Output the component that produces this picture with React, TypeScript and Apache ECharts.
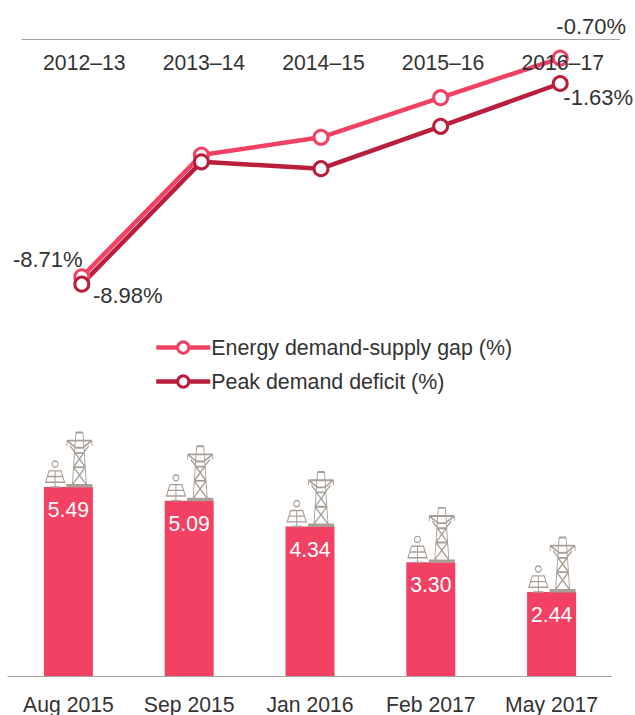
import React, { useEffect, useRef } from "react";
import * as echarts from "echarts";

const years = ["2012–13", "2013–14", "2014–15", "2015–16", "2016–17"];
const energyGap = [-8.71, -4.25, -3.6, -2.15, -0.7];
const peakDeficit = [-8.98, -4.5, -4.75, -3.2, -1.63];
const months = ["Aug 2015", "Sep 2015", "Jan 2016", "Feb 2017", "May 2017"];
const barValues = [5.49, 5.09, 4.34, 3.3, 2.44];

const energyName = "Energy demand-supply gap (%)";
const peakName = "Peak demand deficit (%)";

const FONT = "'Liberation Sans', Arial, sans-serif";
const FS = 21.2;
const TEXT = "#333333";
const PINK = "#F14265";
const CRIMSON = "#B91F3C";
const ICON = "#A99F96";

const towerPath =
  "path://M10 2H17M10 2L6.5 53M17 2L20.5 53M1 10H26M1 10V15M26 10V15M1 10L10 17H17L26 10M4 15L9.5 22H17.5L23 15M9 22H18M8 36H19.5M9 22L19.5 36M18 22L7.5 36M7.5 36L20.5 53M19.5 36L6.5 53M0.5 53.5H26.5M0.5 55H26.5";
const solarPath =
  "path://M12.5 3A3 3 0 1 1 6.5 3A3 3 0 1 1 12.5 3ZM3.5 9.5H15.5L19 20.5H0ZM9.5 9.5V24.5M1.7 15H17.3M4.5 25H14.5";

const withLabels = (
  values: number[],
  labelled: { [index: number]: [number, number] }
) =>
  values.map((value, i) => ({
    value,
    label: labelled[i]
      ? {
          show: true,
          position: "inside",
          align: "center",
          verticalAlign: "middle",
          offset: labelled[i],
          formatter: `${value.toFixed(2)}%`,
          color: TEXT,
          fontFamily: FONT,
          fontSize: 22,
        }
      : { show: false },
  }));

export default function App() {
  const ref = useRef<HTMLDivElement>(null);
  useEffect(() => {
    const chart = echarts.init(ref.current!, null, { renderer: "svg" });
    const lineSeries = (name: string, data: any[], color: string) => ({
      name,
      type: "line",
      xAxisIndex: 0,
      yAxisIndex: 0,
      data,
      symbol: "circle",
      symbolSize: 14,
      showAllSymbols: true,
      lineStyle: { color, width: 4.5 },
      itemStyle: { color: "#ffffff", borderColor: color, borderWidth: 3 },
      z: 3,
    });
    chart.setOption({
      animation: false,
      legend: {
        data: [energyName, peakName],
        orient: "vertical",
        left: 149,
        top: 332,
        itemWidth: 54,
        itemHeight: 14,
        itemGap: 13,
        lineStyle: { width: 4.5 },
        itemStyle: { borderWidth: 3 },
        textStyle: { color: TEXT, fontFamily: FONT, fontSize: 21.4, padding: [0, 0, 0, -4] },
      },
      grid: [
        { left: 22, width: 598, top: 39, height: 273 },
        { left: 8, width: 604, top: 469.4, height: 207.6 },
      ],
      xAxis: [
        {
          gridIndex: 0,
          type: "category",
          position: "top",
          data: years,
          z: 10,
          axisLine: { show: true, lineStyle: { color: ICON, width: 1 } },
          axisTick: { show: false },
          axisLabel: {
            inside: true,
            margin: 13,
            padding: [0, 0, 0, 5],
            color: TEXT,
            fontFamily: FONT,
            fontSize: FS,
            interval: 0,
          },
        },
        {
          gridIndex: 1,
          type: "category",
          data: months,
          axisLine: { show: true, lineStyle: { color: ICON, width: 1 } },
          axisTick: { show: false },
          axisLabel: {
            margin: 18,
            color: TEXT,
            fontFamily: FONT,
            fontSize: FS,
            interval: 0,
          },
        },
      ],
      yAxis: [
        { gridIndex: 0, type: "value", min: -10, max: 0, show: false },
        { gridIndex: 1, type: "value", min: 0, max: 6, show: false },
      ],
      series: [
        lineSeries(energyName, withLabels(energyGap, { 0: [-34, -17], 4: [31, -32] }), PINK),
        lineSeries(peakName, withLabels(peakDeficit, { 0: [46, 11], 4: [38, 14] }), CRIMSON),
        {
          type: "bar",
          xAxisIndex: 1,
          yAxisIndex: 1,
          data: barValues,
          barWidth: 49,
          itemStyle: { color: "#F24162" },
          label: {
            show: true,
            position: "insideTop",
            distance: 12,
            formatter: (p: any) => p.value.toFixed(2),
            color: "#ffffff",
            fontFamily: FONT,
            fontSize: FS,
          },
        },
        {
          type: "scatter",
          xAxisIndex: 1,
          yAxisIndex: 1,
          data: barValues,
          symbol: towerPath,
          symbolKeepAspect: false,
          symbolSize: [26, 54],
          symbolOffset: [11, -27.5],
          itemStyle: { color: "transparent", borderColor: ICON, borderWidth: 1.3, opacity: 1 },
          silent: true,
        },
        {
          type: "scatter",
          xAxisIndex: 1,
          yAxisIndex: 1,
          data: barValues,
          symbol: solarPath,
          symbolKeepAspect: false,
          symbolSize: [19, 26],
          symbolOffset: [-13.3, -13],
          itemStyle: { color: "transparent", borderColor: ICON, borderWidth: 1.2, opacity: 1 },
          silent: true,
        },
      ],
    });
    return () => chart.dispose();
  }, []);
  return (
    <div
      ref={ref}
      style={{ position: "absolute", left: 0, top: 0, width: 635, height: 715 }}
    />
  );
}
